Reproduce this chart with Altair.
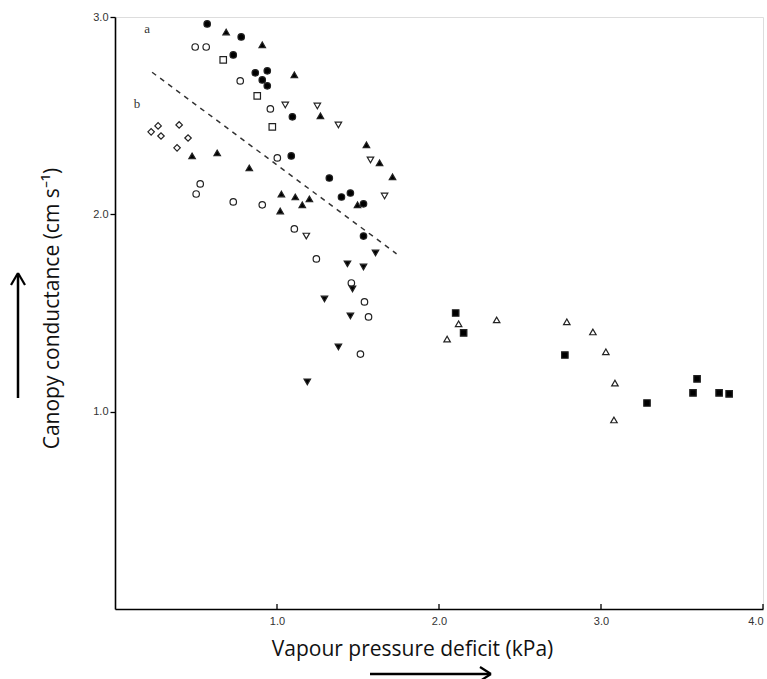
import altair as alt
import pandas as pd

# ---- data ----
groups = ["filled_circle", "filled_tri_up", "open_circle", "open_square",
          "open_diamond", "open_tri_down", "filled_tri_down", "open_tri_up", "filled_square"]
shapes = ["circle", "triangle-up", "circle", "square", "diamond",
          "triangle-down", "triangle-down", "triangle-up", "square"]
fills = ["black", "black", "white", "white", "white", "white", "black", "white", "black"]

fc_x = [0.569, 0.779, 0.730, 0.866, 0.940, 0.909, 0.940, 1.095, 1.088, 1.323, 1.398, 1.453, 1.534, 1.534]
fc_y = [2.965, 2.899, 2.808, 2.717, 2.727, 2.681, 2.651, 2.494, 2.296, 2.184, 2.088, 2.108, 2.053, 1.890]

ftu_x = [0.686, 0.909, 1.107, 1.268, 1.552, 1.633, 1.713, 0.476, 0.631, 0.829, 1.027, 1.113, 1.200, 1.156, 1.020, 1.497]
ftu_y = [2.924, 2.859, 2.707, 2.499, 2.352, 2.261, 2.190, 2.296, 2.311, 2.235, 2.103, 2.088, 2.078, 2.048, 2.017, 2.048]

oc_x = [0.495, 0.563, 0.773, 0.959, 1.002, 0.526, 0.501, 0.730, 0.909, 1.107, 1.243, 1.459, 1.540, 1.565, 1.515]
oc_y = [2.848, 2.848, 2.676, 2.534, 2.286, 2.154, 2.103, 2.063, 2.048, 1.926, 1.774, 1.652, 1.556, 1.480, 1.292]

os_x = [0.668, 0.878, 0.971]
os_y = [2.783, 2.600, 2.443]

od_x = [0.266, 0.396, 0.223, 0.284, 0.451, 0.383]
od_y = [2.448, 2.453, 2.418, 2.397, 2.387, 2.337]

otd_x = [1.051, 1.249, 1.379, 1.577, 1.664, 1.181]
otd_y = [2.554, 2.549, 2.453, 2.276, 2.093, 1.890]

ftd_x = [1.608, 1.435, 1.534, 1.466, 1.293, 1.453, 1.379, 1.187]
ftd_y = [1.804, 1.749, 1.733, 1.622, 1.571, 1.485, 1.328, 1.151]

otu_x = [2.050, 2.121, 2.356, 2.789, 2.950, 3.030, 3.086, 3.080]
otu_y = [1.368, 1.445, 1.465, 1.455, 1.404, 1.303, 1.145, 0.958]

fs_x = [2.103, 2.152, 2.777, 3.284, 3.593, 3.568, 3.729, 3.791]
fs_y = [1.500, 1.399, 1.287, 1.044, 1.166, 1.095, 1.095, 1.090]

series_x = [fc_x, ftu_x, oc_x, os_x, od_x, otd_x, ftd_x, otu_x, fs_x]
series_y = [fc_y, ftu_y, oc_y, os_y, od_y, otd_y, ftd_y, otu_y, fs_y]

# dashed regression line (two end points)
line_x = [0.229, 1.738]
line_y = [2.72, 1.80]

# panel letters
letters = ["a", "b"]
letter_x = [0.198, 0.136]
letter_y = [2.94, 2.56]

x_ticks = [1.0, 2.0, 3.0, 4.0]
y_ticks = [1.0, 2.0, 3.0]

# ---- build tables ----
rows = []
for g, xs, ys in zip(groups, series_x, series_y):
    for xv, yv in zip(xs, ys):
        rows.append({"vpd": xv, "gc": yv, "grp": g})
pts = pd.DataFrame(rows)
line_df = pd.DataFrame({"vpd": line_x, "gc": line_y})
let_df = pd.DataFrame({"vpd": letter_x, "gc": letter_y, "t": letters})
xt_df = pd.DataFrame({"vpd": x_ticks})

W, H = 648, 592

xscale = alt.Scale(domain=[0, 4], nice=False, zero=False)
yscale = alt.Scale(domain=[0, 3], nice=False, zero=False)

xaxis = alt.Axis(values=x_ticks, format=".1f", ticks=False, grid=False, labelFlush=True,
                 domainColor="black", domainWidth=1.6, labelFont="Liberation Sans",
                 labelFontSize=11, labelColor="#333", labelPadding=6,
                 title="Vapour pressure deficit (kPa)", titleFont="Open Sans",
                 titleFontSize=21, titleFontWeight="normal", titleColor="#111",
                 titleX=297, titleY=40, titleAlign="center", titleBaseline="middle")
yaxis = alt.Axis(values=y_ticks, format=".1f", tickSize=5, tickColor="black", tickWidth=1.3,
                 grid=False, domainColor="black", domainWidth=1.6, labelFlush=False,
                 labelFont="Liberation Sans", labelFontSize=11, labelColor="#333", labelPadding=2,
                 title="Canopy conductance (cm s\u207b\u00b9)", titleFont="Open Sans",
                 titleFontSize=21, titleFontWeight="normal", titleColor="#111",
                 titleX=-63, titleY=291, titleAngle=270, titleAlign="center", titleBaseline="middle")

base = alt.Chart(pts)

points = base.mark_point(filled=True, size=42, stroke="#222", strokeWidth=1.2, opacity=1).encode(
    x=alt.X("vpd:Q", scale=xscale, axis=xaxis),
    y=alt.Y("gc:Q", scale=yscale, axis=yaxis),
    shape=alt.Shape("grp:N", scale=alt.Scale(domain=groups, range=shapes), legend=None),
    fill=alt.Fill("grp:N", scale=alt.Scale(domain=groups, range=fills), legend=None),
)

dash = alt.Chart(line_df).mark_line(color="#333", strokeWidth=1.5, strokeDash=[5, 5]).encode(
    x=alt.X("vpd:Q", scale=xscale), y=alt.Y("gc:Q", scale=yscale))

lets = alt.Chart(let_df).mark_text(font="Liberation Serif", fontSize=13, color="#333").encode(
    x=alt.X("vpd:Q", scale=xscale), y=alt.Y("gc:Q", scale=yscale), text="t:N")

xticks = alt.Chart(xt_df).mark_rule(color="black", strokeWidth=1.3).encode(
    x=alt.X("vpd:Q", scale=xscale), y=alt.value(H), y2=alt.value(H - 5))

# decorative arrows next to the axis titles
def seg(x1, y1, x2, y2, w=2.5):
    return alt.Chart(pd.DataFrame({"k": [0]})).mark_rule(color="black", strokeWidth=w).encode(
        x=alt.value(x1), x2=alt.value(x2), y=alt.value(y1), y2=alt.value(y2))

arrows = [
    seg(-97, 381, -97, 257),
    seg(-97, 256, -104, 268, 2.2),
    seg(-97, 256, -90, 268, 2.2),
    seg(255, 657, 375, 657),
    seg(376, 657, 365, 650, 2.2),
    seg(376, 657, 365, 664, 2.2),
]

chart = alt.layer(dash, xticks, points, lets, *arrows).properties(
    width=W, height=H,
    padding={"left": 115, "top": 17, "right": 4, "bottom": 70},
    autosize=alt.AutoSizeParams(type="none"),
).configure_view(stroke=None).configure(background="white")

chart.save("out.html", embed_options={"renderer": "svg", "actions": False})
